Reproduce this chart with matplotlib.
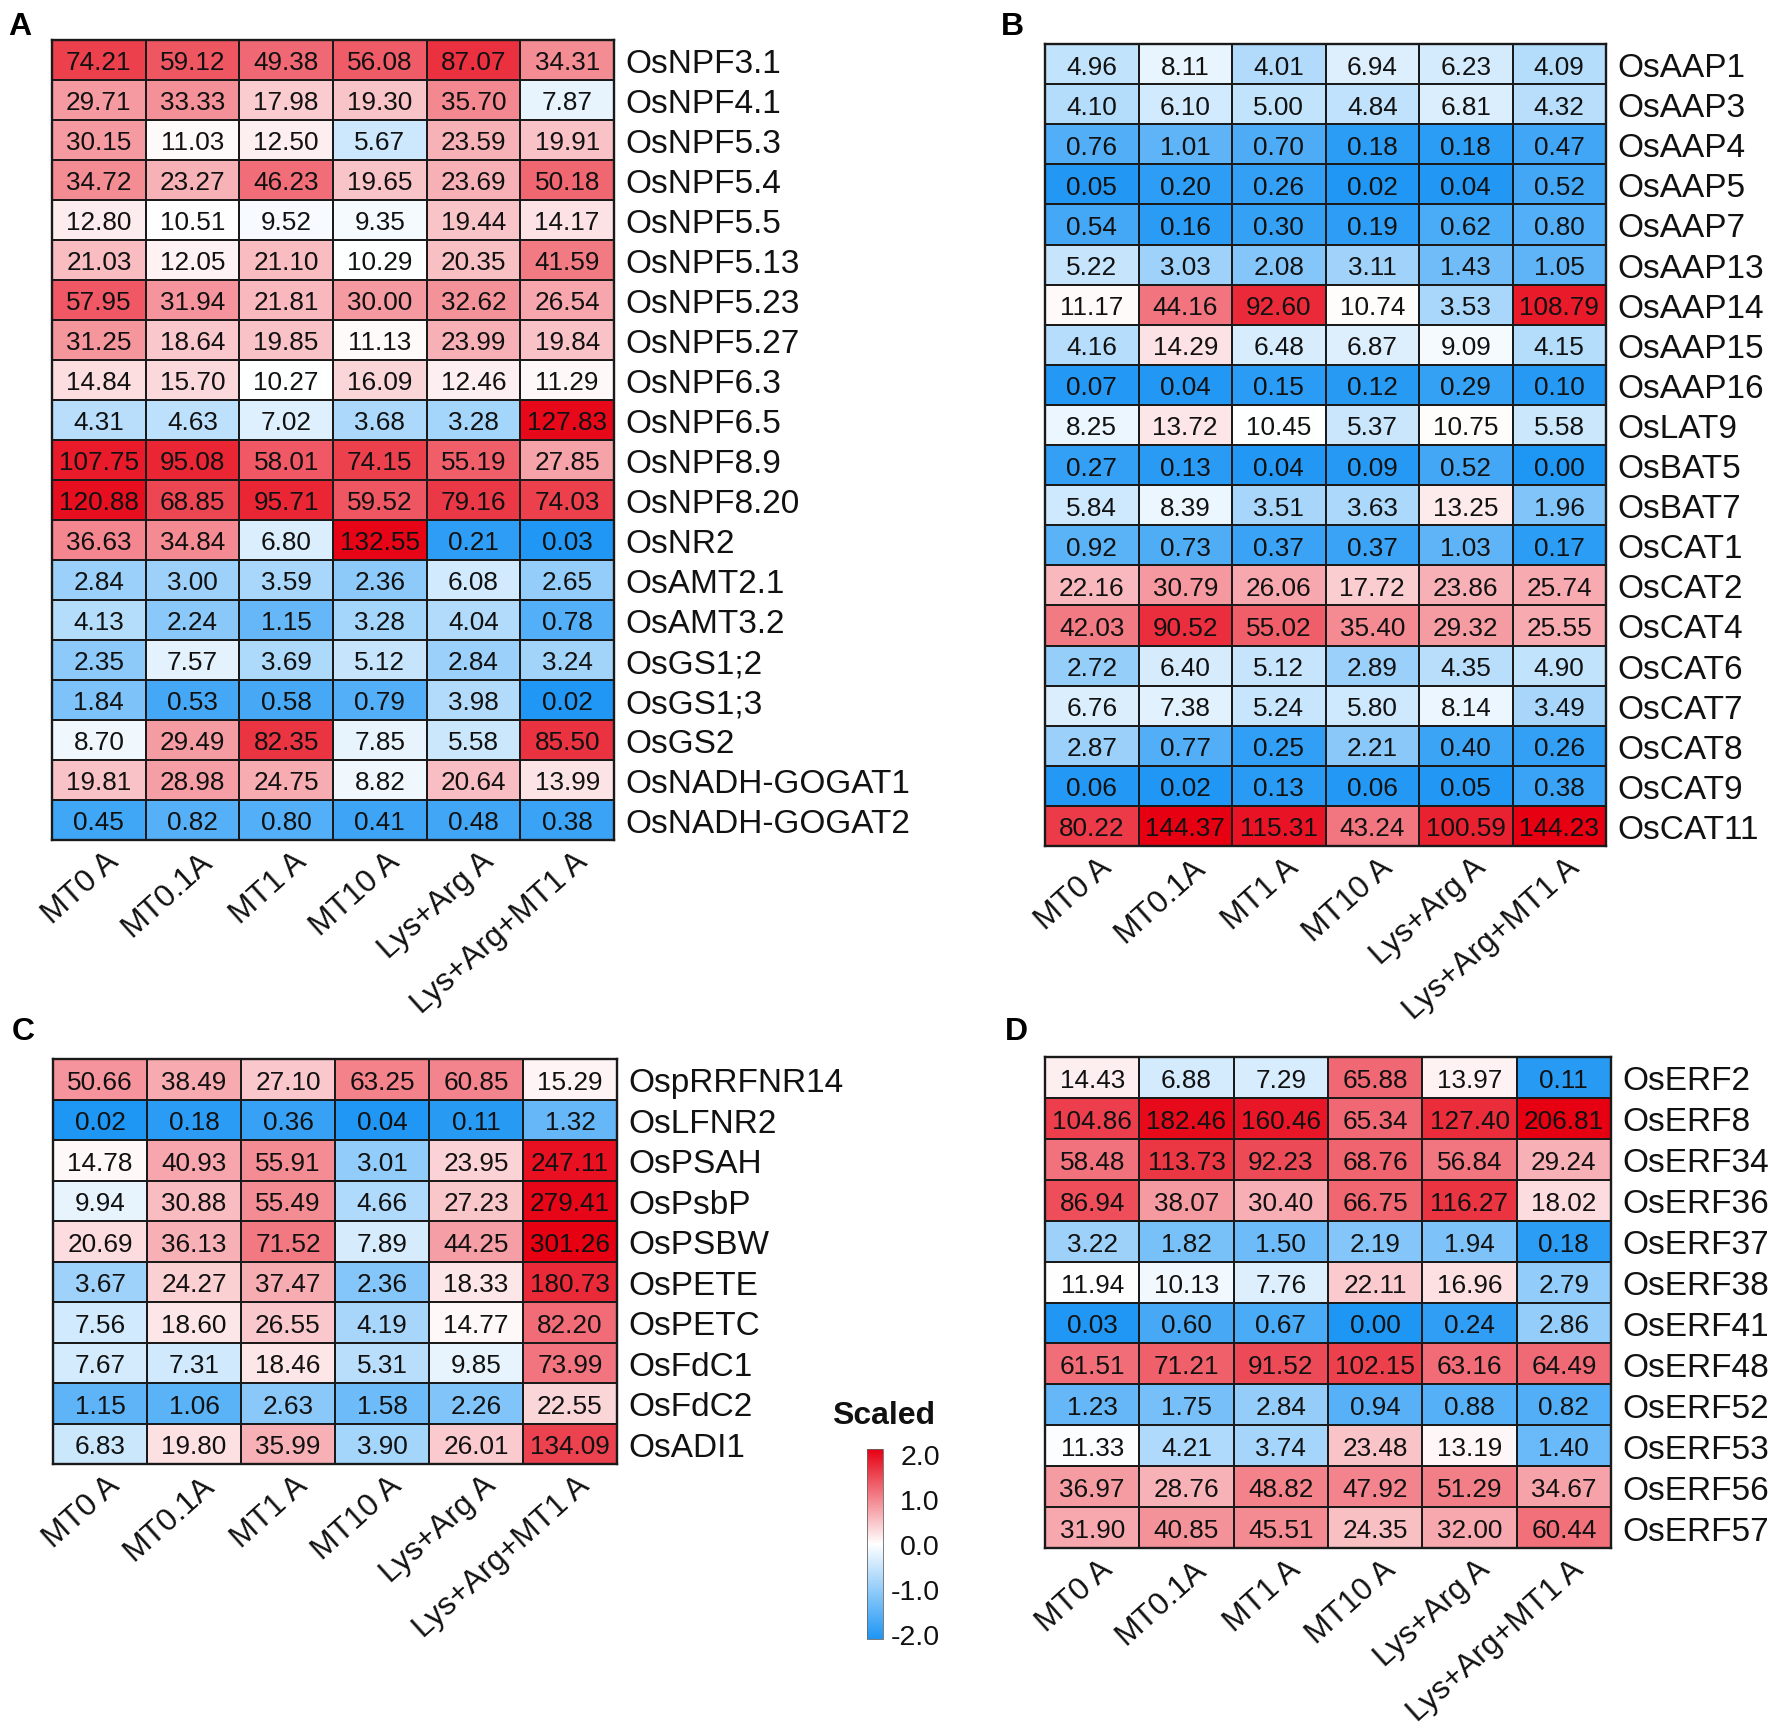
import numpy as np
import matplotlib
matplotlib.use('Agg')
import matplotlib.pyplot as plt
from matplotlib.colors import LinearSegmentedColormap, Normalize
from matplotlib.cm import ScalarMappable
from matplotlib.transforms import ScaledTranslation

plt.rcParams['font.family'] = ['Liberation Sans', 'DejaVu Sans']

samples = ['MT0 A', 'MT0.1A', 'MT1 A', 'MT10 A', 'Lys+Arg A', 'Lys+Arg+MT1 A']

genes_a = ['OsNPF3.1', 'OsNPF4.1', 'OsNPF5.3', 'OsNPF5.4', 'OsNPF5.5', 'OsNPF5.13', 'OsNPF5.23',
           'OsNPF5.27', 'OsNPF6.3', 'OsNPF6.5', 'OsNPF8.9', 'OsNPF8.20', 'OsNR2', 'OsAMT2.1',
           'OsAMT3.2', 'OsGS1;2', 'OsGS1;3', 'OsGS2', 'OsNADH-GOGAT1', 'OsNADH-GOGAT2']
values_a = [
    [74.21, 59.12, 49.38, 56.08, 87.07, 34.31],
    [29.71, 33.33, 17.98, 19.30, 35.70, 7.87],
    [30.15, 11.03, 12.50, 5.67, 23.59, 19.91],
    [34.72, 23.27, 46.23, 19.65, 23.69, 50.18],
    [12.80, 10.51, 9.52, 9.35, 19.44, 14.17],
    [21.03, 12.05, 21.10, 10.29, 20.35, 41.59],
    [57.95, 31.94, 21.81, 30.00, 32.62, 26.54],
    [31.25, 18.64, 19.85, 11.13, 23.99, 19.84],
    [14.84, 15.70, 10.27, 16.09, 12.46, 11.29],
    [4.31, 4.63, 7.02, 3.68, 3.28, 127.83],
    [107.75, 95.08, 58.01, 74.15, 55.19, 27.85],
    [120.88, 68.85, 95.71, 59.52, 79.16, 74.03],
    [36.63, 34.84, 6.80, 132.55, 0.21, 0.03],
    [2.84, 3.00, 3.59, 2.36, 6.08, 2.65],
    [4.13, 2.24, 1.15, 3.28, 4.04, 0.78],
    [2.35, 7.57, 3.69, 5.12, 2.84, 3.24],
    [1.84, 0.53, 0.58, 0.79, 3.98, 0.02],
    [8.70, 29.49, 82.35, 7.85, 5.58, 85.50],
    [19.81, 28.98, 24.75, 8.82, 20.64, 13.99],
    [0.45, 0.82, 0.80, 0.41, 0.48, 0.38],
]

genes_b = ['OsAAP1', 'OsAAP3', 'OsAAP4', 'OsAAP5', 'OsAAP7', 'OsAAP13', 'OsAAP14', 'OsAAP15', 'OsAAP16',
           'OsLAT9', 'OsBAT5', 'OsBAT7', 'OsCAT1', 'OsCAT2', 'OsCAT4', 'OsCAT6', 'OsCAT7', 'OsCAT8',
           'OsCAT9', 'OsCAT11']
values_b = [
    [4.96, 8.11, 4.01, 6.94, 6.23, 4.09],
    [4.10, 6.10, 5.00, 4.84, 6.81, 4.32],
    [0.76, 1.01, 0.70, 0.18, 0.18, 0.47],
    [0.05, 0.20, 0.26, 0.02, 0.04, 0.52],
    [0.54, 0.16, 0.30, 0.19, 0.62, 0.80],
    [5.22, 3.03, 2.08, 3.11, 1.43, 1.05],
    [11.17, 44.16, 92.60, 10.74, 3.53, 108.79],
    [4.16, 14.29, 6.48, 6.87, 9.09, 4.15],
    [0.07, 0.04, 0.15, 0.12, 0.29, 0.10],
    [8.25, 13.72, 10.45, 5.37, 10.75, 5.58],
    [0.27, 0.13, 0.04, 0.09, 0.52, 0.00],
    [5.84, 8.39, 3.51, 3.63, 13.25, 1.96],
    [0.92, 0.73, 0.37, 0.37, 1.03, 0.17],
    [22.16, 30.79, 26.06, 17.72, 23.86, 25.74],
    [42.03, 90.52, 55.02, 35.40, 29.32, 25.55],
    [2.72, 6.40, 5.12, 2.89, 4.35, 4.90],
    [6.76, 7.38, 5.24, 5.80, 8.14, 3.49],
    [2.87, 0.77, 0.25, 2.21, 0.40, 0.26],
    [0.06, 0.02, 0.13, 0.06, 0.05, 0.38],
    [80.22, 144.37, 115.31, 43.24, 100.59, 144.23],
]

genes_c = ['OspRRFNR14', 'OsLFNR2', 'OsPSAH', 'OsPsbP', 'OsPSBW', 'OsPETE', 'OsPETC', 'OsFdC1', 'OsFdC2', 'OsADI1']
values_c = [
    [50.66, 38.49, 27.10, 63.25, 60.85, 15.29],
    [0.02, 0.18, 0.36, 0.04, 0.11, 1.32],
    [14.78, 40.93, 55.91, 3.01, 23.95, 247.11],
    [9.94, 30.88, 55.49, 4.66, 27.23, 279.41],
    [20.69, 36.13, 71.52, 7.89, 44.25, 301.26],
    [3.67, 24.27, 37.47, 2.36, 18.33, 180.73],
    [7.56, 18.60, 26.55, 4.19, 14.77, 82.20],
    [7.67, 7.31, 18.46, 5.31, 9.85, 73.99],
    [1.15, 1.06, 2.63, 1.58, 2.26, 22.55],
    [6.83, 19.80, 35.99, 3.90, 26.01, 134.09],
]

genes_d = ['OsERF2', 'OsERF8', 'OsERF34', 'OsERF36', 'OsERF37', 'OsERF38', 'OsERF41', 'OsERF48', 'OsERF52',
           'OsERF53', 'OsERF56', 'OsERF57']
values_d = [
    [14.43, 6.88, 7.29, 65.88, 13.97, 0.11],
    [104.86, 182.46, 160.46, 65.34, 127.40, 206.81],
    [58.48, 113.73, 92.23, 68.76, 56.84, 29.24],
    [86.94, 38.07, 30.40, 66.75, 116.27, 18.02],
    [3.22, 1.82, 1.50, 2.19, 1.94, 0.18],
    [11.94, 10.13, 7.76, 22.11, 16.96, 2.79],
    [0.03, 0.60, 0.67, 0.00, 0.24, 2.86],
    [61.51, 71.21, 91.52, 102.15, 63.16, 64.49],
    [1.23, 1.75, 2.84, 0.94, 0.88, 0.82],
    [11.33, 4.21, 3.74, 23.48, 13.19, 1.40],
    [36.97, 28.76, 48.82, 47.92, 51.29, 34.67],
    [31.90, 40.85, 45.51, 24.35, 32.00, 60.44],
]

W, H = 1775, 1733
fig = plt.figure(figsize=(W / 100, H / 100), dpi=100, facecolor='white')
cmap = LinearSegmentedColormap.from_list('scaled', ['#1E96F4', '#FFFFFF', '#E60012'])
norm = Normalize(-2, 2)
label_shift = ScaledTranslation(6 / 100, 7 / 100, fig.dpi_scale_trans)


def scaled(v, mid, top):
    log = np.log10(np.asarray(v) + 1)
    return np.where(log > mid, 2 * (log - mid) / (top - mid), 2 * (log - mid) / mid)


def px_axes(x0, y0, x1, y1):
    return fig.add_axes([x0 / W, 1 - y1 / H, (x1 - x0) / W, (y1 - y0) / H])


def heat(box, genes, vals, letter, letter_xy, mid, top):
    ax = px_axes(*box)
    v = np.array(vals)
    ax.pcolormesh(scaled(v, mid, top), cmap=cmap, norm=norm, edgecolors='#1a1a1a', linewidth=1.3)
    ax.set_xlim(0, v.shape[1])
    ax.set_ylim(v.shape[0], 0)
    for i in range(v.shape[0]):
        for j in range(v.shape[1]):
            ax.text(j + 0.5, i + 0.5, f'{v[i, j]:.2f}', ha='center', va='center_baseline',
                    fontsize=18.8, color='#111111')
    ax.set_yticks(np.arange(v.shape[0]) + 0.5, genes)
    ax.yaxis.tick_right()
    ax.set_xticks(np.arange(v.shape[1]) + 0.5, samples)
    ax.tick_params(axis='y', length=0, pad=8, labelsize=24, labelcolor='#111111')
    ax.tick_params(axis='x', length=0, pad=9, labelsize=22.8, labelcolor='#111111')
    for t in ax.get_yticklabels():
        t.set_va('center_baseline')
    for t in ax.get_xticklabels():
        t.set_rotation(42)
        t.set_ha('right')
        t.set_rotation_mode('anchor')
        t.set_va('top')
        t.set_transform(t.get_transform() + label_shift)
    for s in ax.spines.values():
        s.set_linewidth(1.7)
        s.set_color('#1a1a1a')
    fig.text(letter_xy[0] / W, 1 - letter_xy[1] / H, letter, fontsize=23, fontweight='bold',
             ha='left', va='center', color='black')


heat((52, 41, 614, 841), genes_a, values_a, 'A', (8, 27), 1.06, 2.15)
heat((1045, 45, 1606, 847), genes_b, values_b, 'B', (1001, 27), 1.06, 2.16)
heat((53, 1060, 617, 1465), genes_c, values_c, 'C', (12, 1032), 1.16, 2.48)
heat((1045, 1058, 1611, 1549), genes_d, values_d, 'D', (1005, 1032), 1.11, 2.32)

cax = px_axes(867, 1450, 883, 1640)
cb = fig.colorbar(ScalarMappable(norm=Normalize(-2.1, 2.1), cmap=cmap), cax=cax, ticks=[-2, -1, 0, 1, 2])
cb.ax.set_yticklabels(['-2.0', '-1.0', '0.0', '1.0', '2.0'], ha='right')
cb.ax.tick_params(length=0, pad=41, labelsize=20.5, labelcolor='#111111')
cb.outline.set_linewidth(0.6)
cb.outline.set_edgecolor('#666666')
fig.text(884 / W, 1 - 1416 / H, 'Scaled', fontsize=23, fontweight='bold', ha='center', va='center',
         color='#111111')

fig.savefig('out.png', dpi=100)
